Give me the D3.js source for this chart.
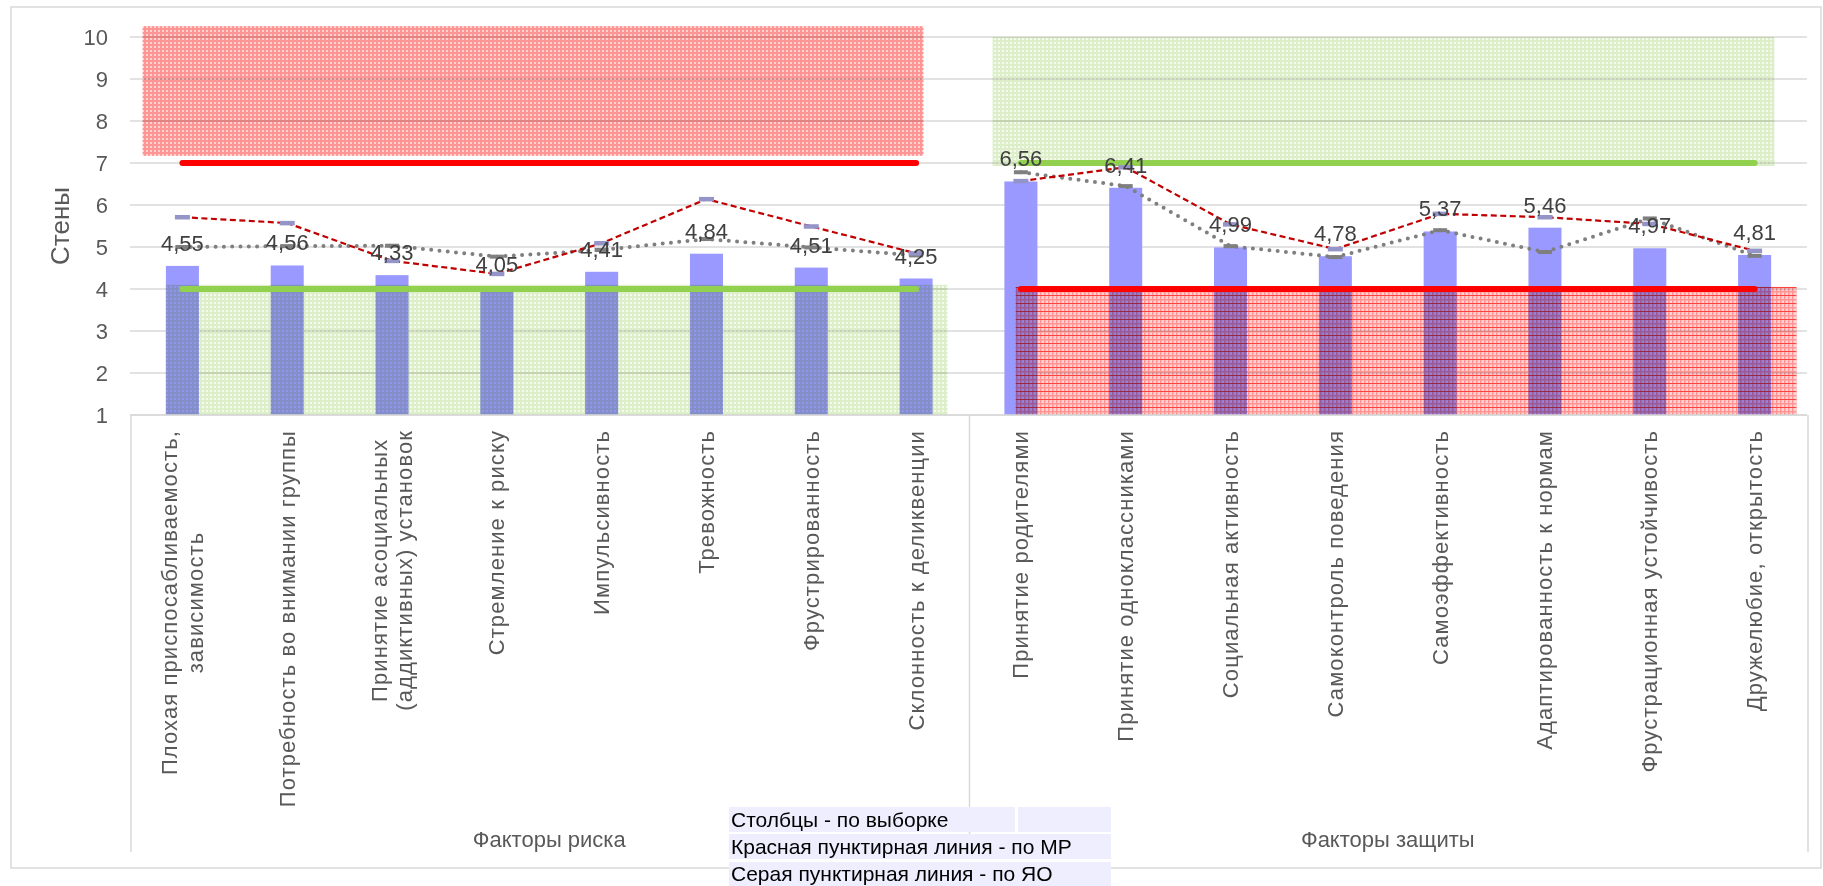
<!DOCTYPE html>
<html>
<head>
<meta charset="utf-8">
<script src="https://cdn.jsdelivr.net/npm/d3@7"></script>
<style>
body { margin: 0; background: #fff; }
text { font-family: "Liberation Sans", Arial, sans-serif; }
</style>
</head>
<body>
<svg id="chart"></svg>
<script>
var categories = [
    "Плохая приспосабливаемость,\nзависимость",
    "Потребность во внимании группы",
    "Принятие асоциальных\n(аддиктивных) установок",
    "Стремление к риску",
    "Импульсивность",
    "Тревожность",
    "Фрустрированность",
    "Склонность к деликвенции",
    "Принятие родителями",
    "Принятие одноклассниками",
    "Социальная активность",
    "Самоконтроль поведения",
    "Самоэффективность",
    "Адаптированность к нормам",
    "Фрустрационная устойчивость",
    "Дружелюбие, открытость"
];
var groups = ["Факторы риска", "Факторы защиты"];
var groupSize = 8;

// столбцы - по выборке
var sampleValues = [4.55, 4.56, 4.33, 4.05, 4.41, 4.84, 4.51, 4.25,
                    6.56, 6.41, 4.99, 4.78, 5.37, 5.46, 4.97, 4.81];
// красная пунктирная - по МР
var mrValues = [5.71, 5.57, 4.67, 4.36, 5.09, 6.14, 5.49, 4.85,
                6.57, 6.90, 5.54, 4.95, 5.79, 5.71, 5.55, 4.91];
// серая пунктирная - по ЯО
var yaoValues = [5.00, 5.02, 5.03, 4.77, 4.93, 5.19, 4.99, 4.80,
                 6.78, 6.45, 5.02, 4.76, 5.40, 4.88, 5.68, 4.79];

var yTicks = [1, 2, 3, 4, 5, 6, 7, 8, 9, 10];
var normBounds = [4, 7];

// shaded zones: value range and span in category units
var zoneValues = [[7.17, 10.26], [1, 4.1], [6.93, 10], [1, 4.05]];
var zoneSpans = [[0.12, 7.57], [0.34, 7.8], [8.23, 15.69], [8.45, 15.9]];

var legendRows = ["Столбцы - по выборке", "Красная пунктирная линия - по МР", "Серая пунктирная линия - по ЯО"];

var W = 1823, H = 886;
var svg = d3.select("#chart").attr("width", W).attr("height", H);

var x = d3.scaleBand().domain(categories).range([130, 1807])
    .paddingInner(0.685).paddingOuter(0.3425);
var xu = d3.scaleLinear().domain([0, categories.length]).range([130, 1807]);
var y = d3.scaleLinear().domain([1, 10]).range([415, 37]);
var cx = function(i) { return x(categories[i]) + x.bandwidth() / 2; };

var defs = svg.append("defs");
function grid(id, w, h, bg, lines) {
    var p = defs.append("pattern").attr("id", id)
        .attr("patternUnits", "userSpaceOnUse").attr("width", w).attr("height", h);
    p.append("rect").attr("width", w).attr("height", h).attr("fill", bg);
    lines.forEach(function(l) {
        p.append("rect").attr("x", l[0]).attr("y", l[1]).attr("width", l[2]).attr("height", l[3]).attr("fill", l[4]);
    });
}
grid("redGrid", 4, 4, "#ffd2d2", [[0, 0, 2, 4, "#ff9494"], [0, 0, 4, 2, "#ff9494"]]);
grid("greenGrid", 4, 4, "#f4faee", [[0, 0, 2, 4, "#dcefc8"], [0, 0, 4, 2, "#dcefc8"]]);
grid("redDense", 4, 8, "#ffd2d2", [[0, 0, 1.5, 8, "#ff9494"], [0, 3, 4, 1.5, "#ff9494"], [0, 7, 4, 1.5, "#ff4040"]]);
var zoneFill = ["redGrid", "greenGrid", "greenGrid", "redDense"];

svg.append("rect").attr("width", W).attr("height", H).attr("fill", "#fff");
svg.append("rect").attr("x", 11).attr("y", 7).attr("width", 1810).attr("height", 861)
    .attr("fill", "none").attr("stroke", "#d9d9d9").attr("stroke-width", 1.5);

// gridlines
svg.append("g").selectAll("line").data(yTicks).enter().append("line")
    .attr("x1", 130).attr("x2", 1807)
    .attr("y1", function(d) { return y(d); }).attr("y2", function(d) { return y(d); })
    .attr("stroke", "#d9d9d9").attr("stroke-width", 1.5);

svg.append("g").selectAll("text").data(yTicks).enter().append("text")
    .attr("x", 108).attr("y", function(d) { return y(d) + 8; })
    .attr("text-anchor", "end").attr("fill", "#595959").style("font-size", "22px")
    .text(function(d) { return d; });

svg.append("text").attr("transform", "translate(69,226) rotate(-90)")
    .attr("text-anchor", "middle").attr("fill", "#595959").style("font-size", "26px")
    .text("Стены");

// bars
svg.append("g").selectAll("rect").data(sampleValues).enter().append("rect")
    .attr("x", function(d, i) { return x(categories[i]); })
    .attr("y", function(d) { return y(d); })
    .attr("width", x.bandwidth())
    .attr("height", function(d) { return y(1) - y(d); })
    .attr("fill", "#9999ff");

// zones
svg.append("g").selectAll("rect").data(zoneValues).enter().append("rect")
    .attr("x", function(d, i) { return xu(zoneSpans[i][0]); })
    .attr("width", function(d, i) { return xu(zoneSpans[i][1]) - xu(zoneSpans[i][0]); })
    .attr("y", function(d) { return y(d[1]); })
    .attr("height", function(d) { return y(d[0]) - y(d[1]); })
    .attr("fill", function(d, i) { return "url(#" + zoneFill[i] + ")"; })
    .style("mix-blend-mode", "multiply");

// norm lines per group
groups.forEach(function(gname, g) {
    var a = g * groupSize, b = a + groupSize - 1;
    normBounds.forEach(function(v, k) {
        var isRed = (g === 0) === (k === 1);
        svg.append("line")
            .attr("x1", cx(a)).attr("x2", cx(b))
            .attr("y1", y(v)).attr("y2", y(v))
            .attr("stroke", isRed ? "#ff0000" : "#92d050")
            .attr("stroke-width", 6).attr("stroke-linecap", "round");
    });
});

var line = d3.line()
    .x(function(d) { return cx(d.i); })
    .y(function(d) { return y(d.v); });

function seg(values, g) {
    return values.slice(g * groupSize, (g + 1) * groupSize).map(function(v, j) {
        return {i: g * groupSize + j, v: v};
    });
}

groups.forEach(function(gname, g) {
    svg.append("path").datum(seg(yaoValues, g))
        .attr("fill", "none").attr("stroke", "#7f7f7f").attr("stroke-width", 4)
        .attr("stroke-linecap", "round").attr("stroke-dasharray", "0,8.3")
        .attr("d", line);
    svg.append("path").datum(seg(mrValues, g))
        .attr("fill", "none").attr("stroke", "#c00000").attr("stroke-width", 2.2)
        .attr("stroke-dasharray", "6,3.5")
        .attr("d", line);
});

// markers
svg.append("g").selectAll("rect").data(yaoValues).enter().append("rect")
    .attr("x", function(d, i) { return cx(i) - 7; })
    .attr("y", function(d) { return y(d) - 2; })
    .attr("width", 14).attr("height", 4).attr("fill", "#7f7f7f");
svg.append("g").selectAll("rect").data(mrValues).enter().append("rect")
    .attr("x", function(d, i) { return cx(i) - 7.5; })
    .attr("y", function(d) { return y(d) - 2.2; })
    .attr("width", 15).attr("height", 4.5).attr("fill", "#9494c8");

// data labels
svg.append("g").selectAll("text").data(sampleValues).enter().append("text")
    .attr("x", function(d, i) { return cx(i); })
    .attr("y", function(d) { return y(d) - 15; })
    .attr("text-anchor", "middle").attr("fill", "#404040").style("font-size", "22px")
    .text(function(d) { return d3.format(".2f")(d).replace(".", ","); });

// category axis box
var axisG = svg.append("g").attr("stroke", "#d9d9d9").attr("stroke-width", 1.5);
axisG.append("line").attr("x1", 130).attr("x2", 1807).attr("y1", y(1)).attr("y2", y(1));
[0, groupSize, categories.length].forEach(function(k) {
    axisG.append("line").attr("x1", xu(k) + 1).attr("x2", xu(k) + 1)
        .attr("y1", y(1)).attr("y2", 852);
});

// category labels
categories.forEach(function(c, i) {
    var lines = c.split("\n");
    var g = svg.append("g").attr("transform", "translate(" + cx(i) + ",430) rotate(-90)");
    var t = g.selectAll("text").data(lines).enter().append("text")
        .attr("fill", "#595959").style("font-size", "22px").style("letter-spacing", "1.1px")
        .attr("text-anchor", "middle")
        .attr("y", function(d, k) { return 7.5 + (k - (lines.length - 1) / 2) * 25.5; })
        .text(function(d) { return d; });
    var maxLen = d3.max(t.nodes(), function(n) { return n.getComputedTextLength(); });
    t.attr("x", -maxLen / 2);
});

// group labels
groups.forEach(function(gname, g) {
    svg.append("text")
        .attr("x", (xu(g * groupSize) + xu((g + 1) * groupSize)) / 2)
        .attr("y", 847)
        .attr("text-anchor", "middle").attr("fill", "#595959").style("font-size", "22px")
        .text(gname);
});

// legend text box
var lg = svg.append("g");
lg.append("rect").attr("x", 729).attr("y", 807).attr("width", 286).attr("height", 25).attr("fill", "#eeeeff");
lg.append("rect").attr("x", 1018).attr("y", 807).attr("width", 93).attr("height", 25).attr("fill", "#eeeeff");
lg.append("rect").attr("x", 729).attr("y", 834).attr("width", 382).attr("height", 25).attr("fill", "#eeeeff");
lg.append("rect").attr("x", 729).attr("y", 862).attr("width", 382).attr("height", 26).attr("fill", "#eeeeff");
lg.selectAll("text").data(legendRows).enter().append("text")
    .attr("x", 731).attr("y", function(d, i) { return 827 + i * 27; })
    .attr("fill", "#000").style("font-size", "21px")
    .text(function(d) { return d; });
</script>
</body>
</html>
